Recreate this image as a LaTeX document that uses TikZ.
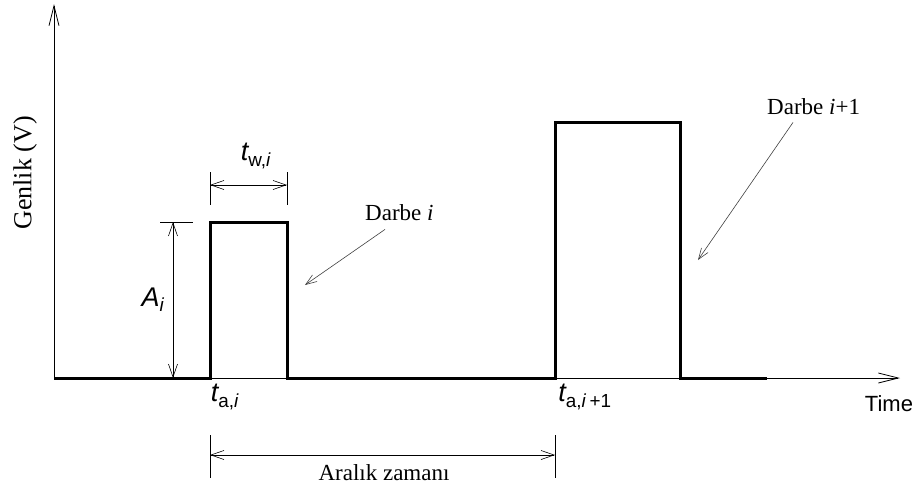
\documentclass[tikz,border=0pt]{standalone}
\usepackage{fontspec}
\usepackage{amsmath}
\setmainfont{Liberation Serif}
\newfontfamily\arialfont{Liberation Sans}
\usetikzlibrary{arrows.meta, positioning, calc}

\tikzset{
  axis/.style={line width=0.8pt, -{Straight Barb[length=20pt, width=10pt]}},
  signal/.style={line width=3pt, line join=miter},
  dimline/.style={line width=0.6pt},
  dimarrow/.style={line width=0.6pt, {Straight Barb[length=13pt, width=9pt]}-{Straight Barb[length=13pt, width=9pt]}},
  pointer/.style={line width=0.6pt, black!75, -{Straight Barb[length=11pt, width=8pt]}},
  seriflabel/.style={font=\fontsize{23}{26}\selectfont, inner sep=0pt},
  sanslabel/.style={font=\arialfont\fontsize{22}{25}\selectfont, inner sep=0pt},
  symlabel/.style={font=\arialfont\fontsize{27}{30}\selectfont, inner sep=0pt}
}

\begin{document}
\begin{tikzpicture}[x=1pt, y=-1pt]

\useasboundingbox (0,0) rectangle (919,491);

% Key points of the pulse train
\coordinate (orig) at (54,378);
\coordinate (rise1) at (210,378);
\coordinate (fall1) at (287,378);
\coordinate (rise2) at (555,378);
\coordinate (fall2) at (680,378);

% Axes
\draw[axis] (orig) -- (900,378);
\draw[axis] (orig) -- (54,4);
\node[sanslabel] (timelbl) at (889,404) {Time};
\node[seriflabel, font=\fontsize{26}{28}\selectfont, rotate=90] (amplbl) at (25,173) {Genlik (V)};

% Pulse train
\draw[signal] (orig) -- (rise1) -- (210,222) -- (287,222) -- (fall1)
  -- (rise2) -- (555,122) -- (680,122) -- (fall2) -- (767,378);

% Amplitude A_i
\draw[dimline] (160,222) -- (193,222);
\draw[dimarrow] (173,222) -- (173,378);
\node[symlabel] (amp) at (153,300) {$\textit{A}_{\textit{i}}$};

% Width t_w,i
\draw[dimline] (210,172) -- (210,205);
\draw[dimline] (287,172) -- (287,205);
\draw[dimarrow] (210,185) -- (287,185);
\node[symlabel] (width) at (256,156) {$\textit{t}_{\text{w,\textit{i}}}$};

% Pulse labels
\node[seriflabel, anchor=base west] (darbe1) at (365,220) {Darbe \textit{i}};
\coordinate (tip1) at (305,285);
\draw[pointer] ([xshift=20pt, yshift=-9pt]darbe1.south west) -- (tip1);

\node[seriflabel, anchor=base west] (darbe2) at (767,114) {Darbe \textit{i}+1};
\coordinate (tip2) at (698,260);
\draw[pointer] ([xshift=26pt, yshift=-8pt]darbe2.south west) -- (tip2);

% Arrival times and interval
\node[symlabel] (ta1) at (225,397) {$\textit{t}_{\text{a,\textit{i}}}$};
\node[symlabel] (ta2) at (585,397) {$\textit{t}_{\text{a,\textit{i}\,+1}}$};
\draw[dimline] (210,435) -- (210,478);
\draw[dimline] (555,435) -- (555,478);
\draw[dimarrow] (210,455) -- (555,455);
\node[seriflabel] (interval) at (384,473) {Aralık zamanı};

\end{tikzpicture}
\end{document}
